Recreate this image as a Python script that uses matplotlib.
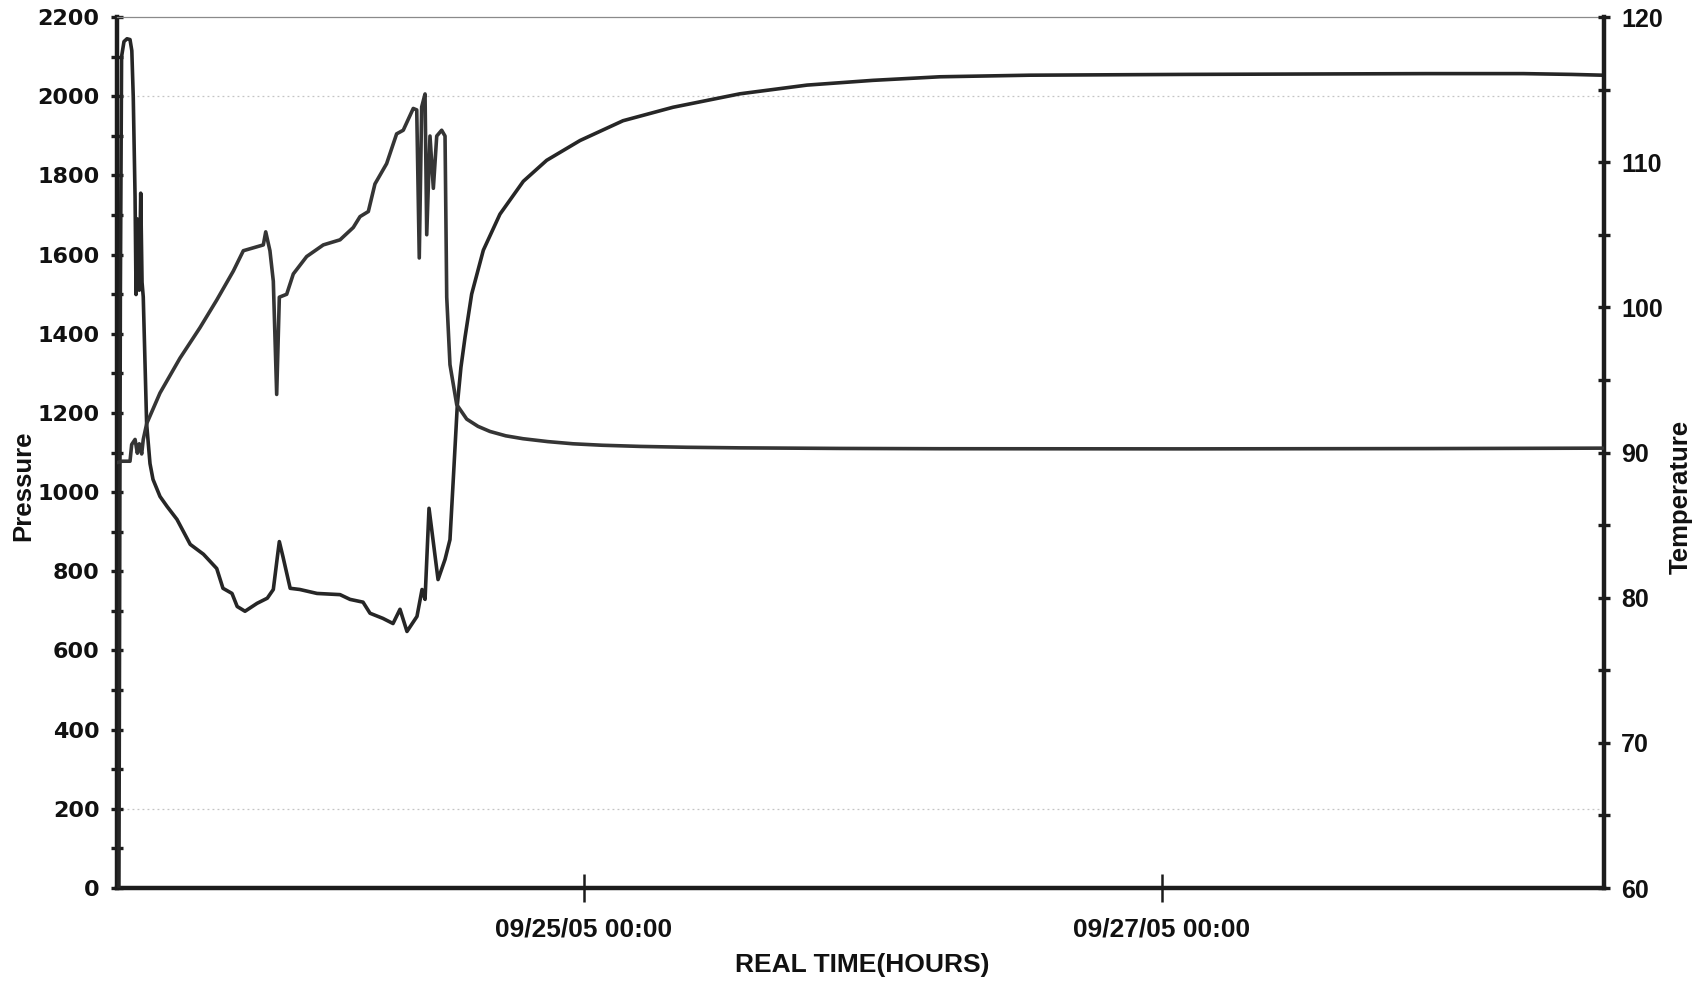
import matplotlib
matplotlib.use("Agg")
import matplotlib.pyplot as plt
import matplotlib.dates as mdates
from matplotlib.ticker import MultipleLocator, FixedLocator
import pandas as pd

# ---------------- data (hours relative to 09/25/05 00:00) ----------------
pressure_hours = [-38.62, -38.5, -38.4, -38.2, -37.95, -37.7, -37.55, -37.43, -37.28, -37.2,
                  -37.1, -36.93, -36.81, -36.7, -36.6, -36.32, -36.04, -35.79, -35.21, -34.63,
                  -33.8, -32.7, -31.6, -30.5, -29.98, -29.23, -28.8, -28.15, -27.15, -26.3,
                  -25.8, -25.46, -25.3, -25.0, -24.4, -23.6, -22.17, -20.26, -19.43, -18.35,
                  -17.77, -16.7, -15.86, -15.28, -14.7, -13.87, -13.45, -13.2, -12.87, -12.54,
                  -12.12, -11.54, -11.13, -10.85, -10.52, -10.22, -9.88, -9.33, -8.36, -6.98,
                  -5.04, -3.1, -0.33, 3.24, 7.39, 12.95, 18.52, 24.0, 29.56, 37.0,
                  50.0, 60.0, 70.0, 78.0, 82.0, 84.6]
pressure_values = [0, 1500, 2100, 2138, 2145, 2143, 2115, 1998, 1746, 1499,
                   1690, 1510, 1755, 1530, 1493, 1173, 1072, 1032, 989, 964,
                   931, 868, 843, 807, 757, 744, 711, 699, 719, 732,
                   754, 837, 875, 837, 757, 754, 744, 741, 729, 722,
                   694, 681, 668, 704, 648, 686, 754, 729, 959, 880,
                   779, 830, 880, 1035, 1220, 1315, 1391, 1500, 1611, 1702,
                   1785, 1838, 1888, 1938, 1972, 2006, 2028, 2040, 2049, 2053,
                   2055, 2056, 2057, 2057, 2055, 2053]

temp_hours = [-38.78, -38.37, -37.7, -37.56, -37.28, -37.09, -36.93, -36.73, -36.6, -36.31,
              -35.21, -33.55, -31.89, -30.5, -29.12, -28.29, -26.63, -26.43, -26.08, -25.8,
              -25.52, -25.3, -24.69, -24.14, -23.03, -21.65, -20.26, -19.16, -18.6, -17.91,
              -17.36, -16.39, -15.56, -15.01, -14.18, -13.89, -13.68, -13.48, -13.2, -13.06,
              -12.79, -12.51, -12.23, -11.82, -11.54, -11.4, -11.13, -10.57, -9.74, -8.8,
              -7.81, -6.5, -5.07, -3.0, -0.91, 1.5, 4.65, 8.5, 12.95, 21.26,
              29.56, 50.0, 70.0, 84.6]
temp_values = [89.3, 89.4, 89.4, 90.55, 90.9, 89.95, 90.6, 89.9, 90.9, 92.0,
               94.1, 96.5, 98.6, 100.5, 102.5, 103.9, 104.3, 105.2, 103.9, 101.8,
               94.0, 100.7, 100.9, 102.3, 103.5, 104.3, 104.65, 105.5, 106.25, 106.6,
               108.5, 109.9, 111.95, 112.2, 113.7, 113.6, 103.4, 113.8, 114.7, 105.0,
               111.8, 108.2, 111.8, 112.2, 111.8, 100.7, 96.05, 93.3, 92.3, 91.8,
               91.45, 91.15, 90.95, 90.75, 90.6, 90.5, 90.42, 90.36, 90.32, 90.28,
               90.26, 90.25, 90.27, 90.3]

x_tick_labels = ["09/25/05 00:00", "09/27/05 00:00"]
x_tick_dates = ["2005-09-25 00:00", "2005-09-27 00:00"]
x_range_hours = [-38.78, 84.7]
pressure_ticks = list(range(0, 2201, 200))
temp_ticks = list(range(60, 121, 10))

# ---------------- figure ----------------
W, H = 1701, 982
fig = plt.figure(figsize=(W / 100, H / 100), dpi=100)
fig.patch.set_facecolor("white")
ax = fig.add_axes([117 / W, 1 - 888 / H, (1604 - 117) / W, (888 - 17) / H])
ax2 = ax.twinx()

t0 = pd.Timestamp("2005-09-25 00:00")
p_t = t0 + pd.to_timedelta(pressure_hours, unit="h")
t_t = t0 + pd.to_timedelta(temp_hours, unit="h")

ax.plot(p_t, pressure_values, color="#262626", lw=2.6, solid_joinstyle="round",
        solid_capstyle="round", zorder=3)
ax2.plot(t_t, temp_values, color="#353535", lw=2.6, solid_joinstyle="round",
         solid_capstyle="round", zorder=3)

ax.set_xlim(t0 + pd.Timedelta(hours=x_range_hours[0]), t0 + pd.Timedelta(hours=x_range_hours[1]))
ax.set_ylim(pressure_ticks[0], pressure_ticks[-1])
ax2.set_ylim(temp_ticks[0], temp_ticks[-1])

# faint gridlines surviving in the scan
for g in (200, 2000):
    ax.axhline(g, color="#c4c4c4", lw=0.9, ls=(0, (1.5, 2.5)), zorder=1)

# spines
for s in ("left", "bottom"):
    ax.spines[s].set_linewidth(3.2)
    ax.spines[s].set_color("#1c1c1c")
ax.spines["right"].set_visible(False)
ax.spines["top"].set_color("#8a8a8a")
ax.spines["top"].set_linewidth(0.9)
for s in ("left", "bottom", "top"):
    ax2.spines[s].set_visible(False)
ax2.spines["right"].set_linewidth(3.2)
ax2.spines["right"].set_color("#1c1c1c")

# x ticks
xt = [mdates.date2num(pd.Timestamp(d)) for d in x_tick_dates]
ax.xaxis.set_major_locator(FixedLocator(xt))
ax.set_xticklabels(x_tick_labels)
ax.tick_params(axis="x", which="major", direction="inout", length=20, width=1.8,
               color="#1c1c1c", pad=11)
for lab in ax.get_xticklabels():
    lab.set_fontfamily("Liberation Sans")
    lab.set_fontweight("bold")
    lab.set_fontsize(19)
    lab.set_color("#111111")

# left y ticks
ax.set_yticks(pressure_ticks)
ax.yaxis.set_minor_locator(MultipleLocator(100))
ax.tick_params(axis="y", which="both", direction="inout", length=9, width=2.4,
               color="#1c1c1c", pad=8)
for lab in ax.get_yticklabels():
    lab.set_fontfamily("DejaVu Sans")
    lab.set_fontweight("bold")
    lab.set_fontsize(16)
    lab.set_color("#111111")

# right y ticks
ax2.set_yticks(temp_ticks)
ax2.yaxis.set_minor_locator(MultipleLocator(5))
ax2.tick_params(axis="y", which="both", direction="inout", length=9, width=2.4,
                color="#1c1c1c", pad=8)
for lab in ax2.get_yticklabels():
    lab.set_fontfamily("Liberation Sans")
    lab.set_fontweight("bold")
    lab.set_fontsize(18)
    lab.set_color("#111111")

# axis titles
fig.text(23 / W, 1 - 486 / H, "Pressure", rotation=90, ha="center", va="center",
         fontfamily="Liberation Sans", fontweight="bold", fontsize=18.5, color="#111111")
fig.text(1681 / W, 1 - 497 / H, "Temperature", rotation=90, ha="center", va="center",
         fontfamily="Liberation Sans", fontweight="bold", fontsize=18.5, color="#111111")
fig.text(862 / W, 1 - 965 / H, "REAL TIME(HOURS)", ha="center", va="center",
         fontfamily="Liberation Sans", fontweight="bold", fontsize=19, color="#111111")

fig.savefig("out.png", dpi=100, facecolor="white")
